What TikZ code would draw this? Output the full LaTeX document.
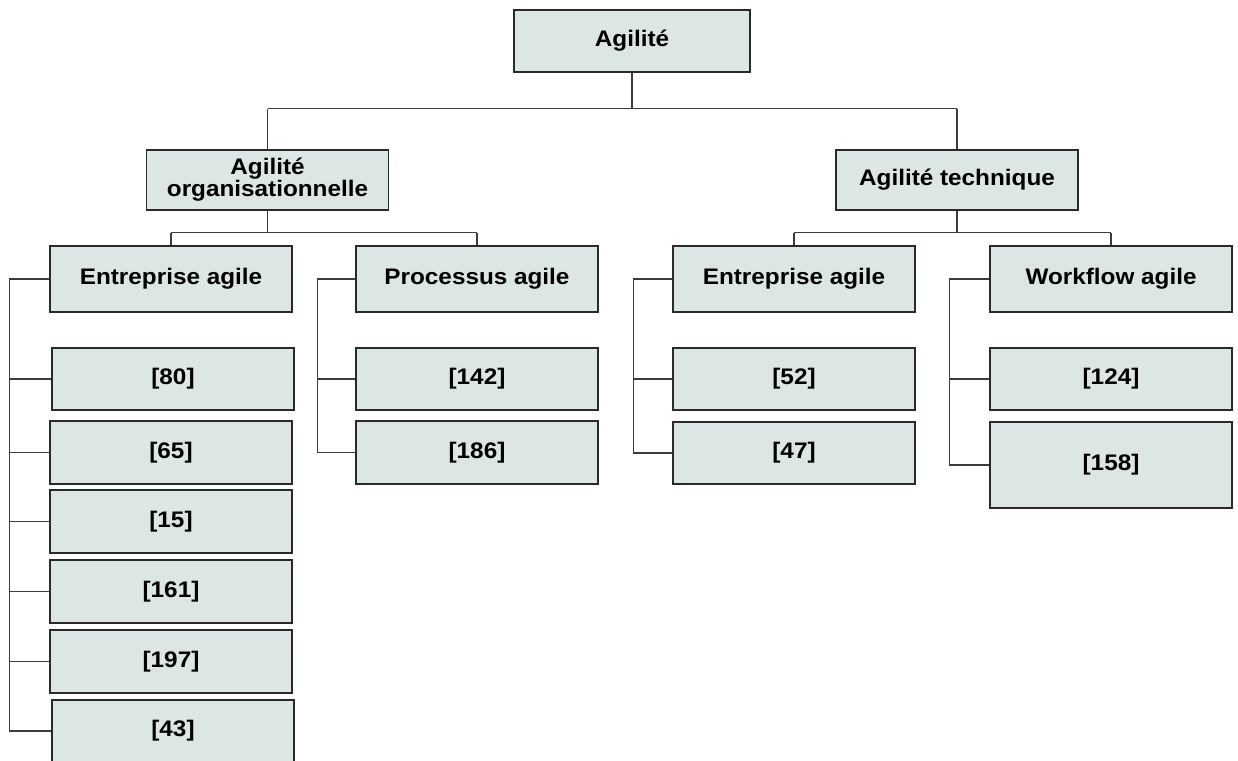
\documentclass[tikz,border=0pt]{standalone}
\usepackage{fontspec}
\newfontfamily\boxfont{Liberation Sans}[FakeStretch=1.08]
\definecolor{boxfill}{HTML}{DCE6E5}
\definecolor{boxline}{HTML}{2A2A2A}
\definecolor{conline}{HTML}{3C3C3C}
\begin{document}
\begin{tikzpicture}[x=1pt,y=-1pt,
  box/.style={draw=boxline, line width=1.5pt, fill=boxfill, minimum width=242pt, minimum height=62pt,
    inner sep=0pt, align=center, font=\boxfont\bfseries\fontsize{22.5}{21}\selectfont},
  con/.style={draw=conline, line width=1.3pt}]
\useasboundingbox (0,0) rectangle (1238,760);
\begin{scope}
\clip (0,0) rectangle (1238,760);
% level 0
\node[box, minimum width=236pt] (top) at (632,41) {Agilit\'e};
% level 1
\node[box, minimum height=60pt] (org) at (267.5,180) {Agilit\'e\\organisationnelle};
\node[box, minimum height=60pt] (tech) at (957,180) {Agilit\'e technique};
% level 2
\node[box, minimum height=66pt] (e1) at (171,279) {Entreprise agile};
\node[box, minimum height=66pt] (p) at (477,279) {Processus agile};
\node[box, minimum height=66pt] (e2) at (794,279) {Entreprise agile};
\node[box, minimum height=66pt] (w) at (1111,279) {Workflow agile};
% leaves left
\node[box] (c80) at (173,379) {[80]};
\node[box, minimum height=63pt] (c65) at (171,452.5) {[65]};
\node[box, minimum height=63pt] (c15) at (171,521.5) {[15]};
\node[box, minimum height=63pt] (c161) at (171,591.5) {[161]};
\node[box, minimum height=63pt] (c197) at (171,661.5) {[197]};
\node[box, minimum height=62pt] (c43) at (173,731) {[43]};
% leaves processus
\node[box] (c142) at (477,379) {[142]};
\node[box, minimum height=63pt] (c186) at (477,452.5) {[186]};
% leaves entreprise right
\node[box] (c52) at (794,379) {[52]};
\node[box] (c47) at (794,453) {[47]};
% leaves workflow
\node[box] (c124) at (1111,379) {[124]};
\node[box, minimum height=86pt] (c158) at (1111,465) {[158]};
% connectors
\draw[con] (top.south) -- ++(0,36) coordinate (b0);
\draw[con] (b0 -| org.north) -- (b0 -| tech.north);
\draw[con] (b0 -| org.north) -- (org.north);
\draw[con] (b0 -| tech.north) -- (tech.north);
\draw[con] (org.south) -- ++(0,22) coordinate (b1);
\draw[con] (b1 -| e1.north) -- (b1 -| p.north);
\draw[con] (b1 -| e1.north) -- (e1.north);
\draw[con] (b1 -| p.north) -- (p.north);
\draw[con] (tech.south) -- ++(0,22) coordinate (b2);
\draw[con] (b2 -| e2.north) -- (b2 -| w.north);
\draw[con] (b2 -| e2.north) -- (e2.north);
\draw[con] (b2 -| w.north) -- (w.north);
% side buses
\draw[con] (e1.west) -- ++(-40,0) coordinate (s1);
\foreach \n in {c80,c65,c15,c161,c197,c43} \draw[con] (s1) |- (\n.west);
\draw[con] (p.west) -- ++(-38,0) coordinate (s2);
\foreach \n in {c142,c186} \draw[con] (s2) |- (\n.west);
\draw[con] (e2.west) -- ++(-39,0) coordinate (s3);
\foreach \n in {c52,c47} \draw[con] (s3) |- (\n.west);
\draw[con] (w.west) -- ++(-40,0) coordinate (s4);
\foreach \n in {c124,c158} \draw[con] (s4) |- (\n.west);
\end{scope}
\end{tikzpicture}
\end{document}
